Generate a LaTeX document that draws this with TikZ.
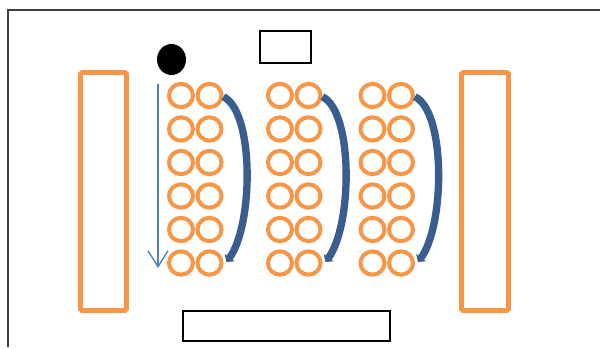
\documentclass[tikz,border=0pt]{standalone}
\usetikzlibrary{shapes.geometric,arrows.meta}
\definecolor{orng}{HTML}{F79646}
\definecolor{dblue}{HTML}{395D8C}
\definecolor{lblue}{HTML}{4F81BD}
\definecolor{framec}{HTML}{404040}
\begin{document}
\begin{tikzpicture}[x=0.75pt,y=-0.75pt,
  ring/.style={ellipse,draw=orng,line width=3pt,inner sep=0pt,minimum width=18pt,minimum height=17.5pt},
  bench/.style={rectangle,draw=orng,line width=3.5pt,inner sep=0pt,rounded corners=1pt},
  plainbox/.style={rectangle,draw=black,line width=1pt,inner sep=0pt},
  flow/.style={draw=dblue,line width=5.5pt,-{Triangle[length=4pt,width=9pt]}},
  guide/.style={draw=lblue,line width=1pt,-{Straight Barb[length=12pt,width=15pt]}},
  framel/.style={draw=framec,line width=1pt}]
\useasboundingbox (0,0) rectangle (600,347);
\fill[white] (0,0) rectangle (600,347);
\draw[framel] (8,347) -- (8,10) -- (600,10);
% benches and boxes
\node[bench,minimum width=34.5pt,minimum height=178.5pt] (leftb) at (103.5,191.5) {};
\node[bench,minimum width=35.25pt,minimum height=178.5pt] (rightb) at (485,191.5) {};
\node[plainbox,minimum width=38.25pt,minimum height=24pt] (topbox) at (285.5,47) {};
\node[plainbox,minimum width=155.25pt,minimum height=22.5pt] (botbox) at (286.5,326) {};
\node[ellipse,fill=black,inner sep=0pt,minimum width=21.75pt,minimum height=23.25pt] (dot) at (171.5,59.5) {};
% rings
\foreach \g/\xa/\xb in {1/181/209.5, 2/280/308.5, 3/372.5/401}{
  \foreach \r in {1,...,6}{
    \node[ring] (g\g r\r a) at (\xa,{95.5+33.5*(\r-1)}) {};
    \node[ring] (g\g r\r b) at (\xb,{95.5+33.5*(\r-1)}) {};
  }
  \draw[flow] (g\g r1b.-5) .. controls ({\xb+45},112) and ({\xb+44},225) .. ([shift={(3,-1)}]g\g r6b.east);
}
% guide arrow
\coordinate (gtop) at (158,84);
\coordinate (gbot) at (158,268);
\draw[guide] (gtop) -- (gbot);
\end{tikzpicture}
\end{document}
